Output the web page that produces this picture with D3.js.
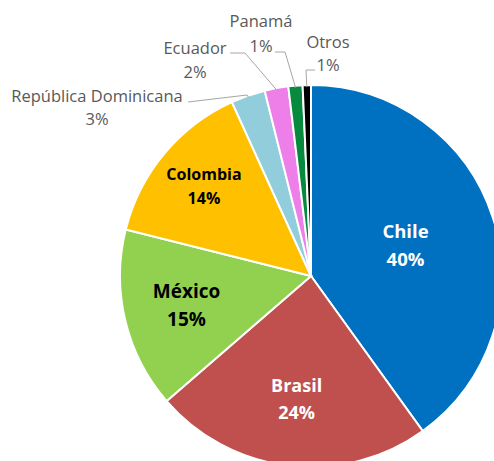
<!DOCTYPE html>
<html>
<head>
<meta charset="utf-8">
<script src="https://cdn.jsdelivr.net/npm/d3@7"></script>
<style>
  body { margin: 0; background: #fff; }
  svg { display: block; font-family: "Open Sans", sans-serif; }
</style>
</head>
<body>
<svg id="chart"></svg>
<script>
// Pie chart data
var categories = ["Chile", "Brasil", "México", "Colombia", "República Dominicana", "Ecuador", "Panamá", "Otros"];
var values = [40.1, 23.6, 15.3, 14.3, 2.9, 2.0, 1.2, 0.7];
var pctLabels = ["40%", "24%", "15%", "14%", "3%", "2%", "1%", "1%"];
var colors = ["#0070C0", "#C0504D", "#92D050", "#FFC000", "#92CDDC", "#EE7FE8", "#078A3E", "#000000"];

var svgWidth = 494, svgHeight = 461;
var cx = 311, cy = 276, radius = 191;

var svg = d3.select('#chart')
    .attr('width', svgWidth)
    .attr('height', svgHeight);

var dataset = categories.map(function(c, i) {
    return {name: c, value: values[i], pct: pctLabels[i], color: colors[i]};
});

var pie = d3.pie().sort(null).value(function(d) { return d.value; });
var arc = d3.arc().innerRadius(0).outerRadius(radius);
var arcs = pie(dataset);

var g = svg.append('g').attr('transform', 'translate(' + cx + ',' + cy + ')');

g.selectAll('path')
    .data(arcs)
    .enter()
    .append('path')
    .attr('d', arc)
    .attr('fill', function(d) { return d.data.color; })
    .attr('stroke', '#fff')
    .attr('stroke-width', 2);

// inside labels: radius factor, font size, line gap, text colour
var inside = {
    "Chile":    {r: 0.52, size: 18.5, gap: 28, fill: "#fff"},
    "Brasil":   {r: 0.65, size: 18, gap: 27, fill: "#fff"},
    "México":   {r: 0.67, size: 19, gap: 28, fill: "#000"},
    "Colombia": {r: 0.73, size: 16, gap: 24, fill: "#000"}
};

arcs.forEach(function(d) {
    var opt = inside[d.data.name];
    if (!opt) return;
    var mid = (d.startAngle + d.endAngle) / 2;
    var x = Math.sin(mid) * radius * opt.r, y = -Math.cos(mid) * radius * opt.r;
    var t = g.append('text')
        .attr('text-anchor', 'middle')
        .attr('font-weight', 'bold')
        .attr('font-size', opt.size)
        .attr('fill', opt.fill);
    t.append('tspan').attr('x', x).attr('y', y - opt.gap / 2).attr('dy', '0.35em').text(d.data.name);
    t.append('tspan').attr('x', x).attr('y', y + opt.gap / 2).attr('dy', '0.35em').text(d.data.pct);
});

// outside labels with leader lines (label centre, elbow points relative to centre)
var outside = {
    "República Dominicana": {x: -214, y: -168, gap: 23, line: [[-123, -174], [-64, -181]]},
    "Ecuador":              {x: -116, y: -216, gap: 24, line: [[-81, -223], [-66, -223]]},
    "Panamá":               {x: -50,  y: -242, gap: 25, line: [[-36, -224], [-26, -224]]},
    "Otros":                {x: 17,   y: -222, gap: 23, line: [[4, -206], [-5, -206]]}
};

arcs.forEach(function(d) {
    var opt = outside[d.data.name];
    if (!opt) return;
    var mid = (d.startAngle + d.endAngle) / 2;
    var edge = [Math.sin(mid) * (radius - 2), -Math.cos(mid) * (radius - 2)];
    var pts = opt.line.concat([edge]);
    g.append('path')
        .attr('d', d3.line()(pts))
        .attr('fill', 'none')
        .attr('stroke', '#A6A6A6')
        .attr('stroke-width', 1);
    var t = g.append('text')
        .attr('text-anchor', 'middle')
        .attr('font-size', 16.5)
        .attr('fill', '#595959');
    t.append('tspan').attr('x', opt.x).attr('y', opt.y - opt.gap / 2).attr('dy', '0.35em').text(d.data.name);
    t.append('tspan').attr('x', opt.x).attr('y', opt.y + opt.gap / 2).attr('dy', '0.35em').text(d.data.pct);
});
</script>
</body>
</html>
